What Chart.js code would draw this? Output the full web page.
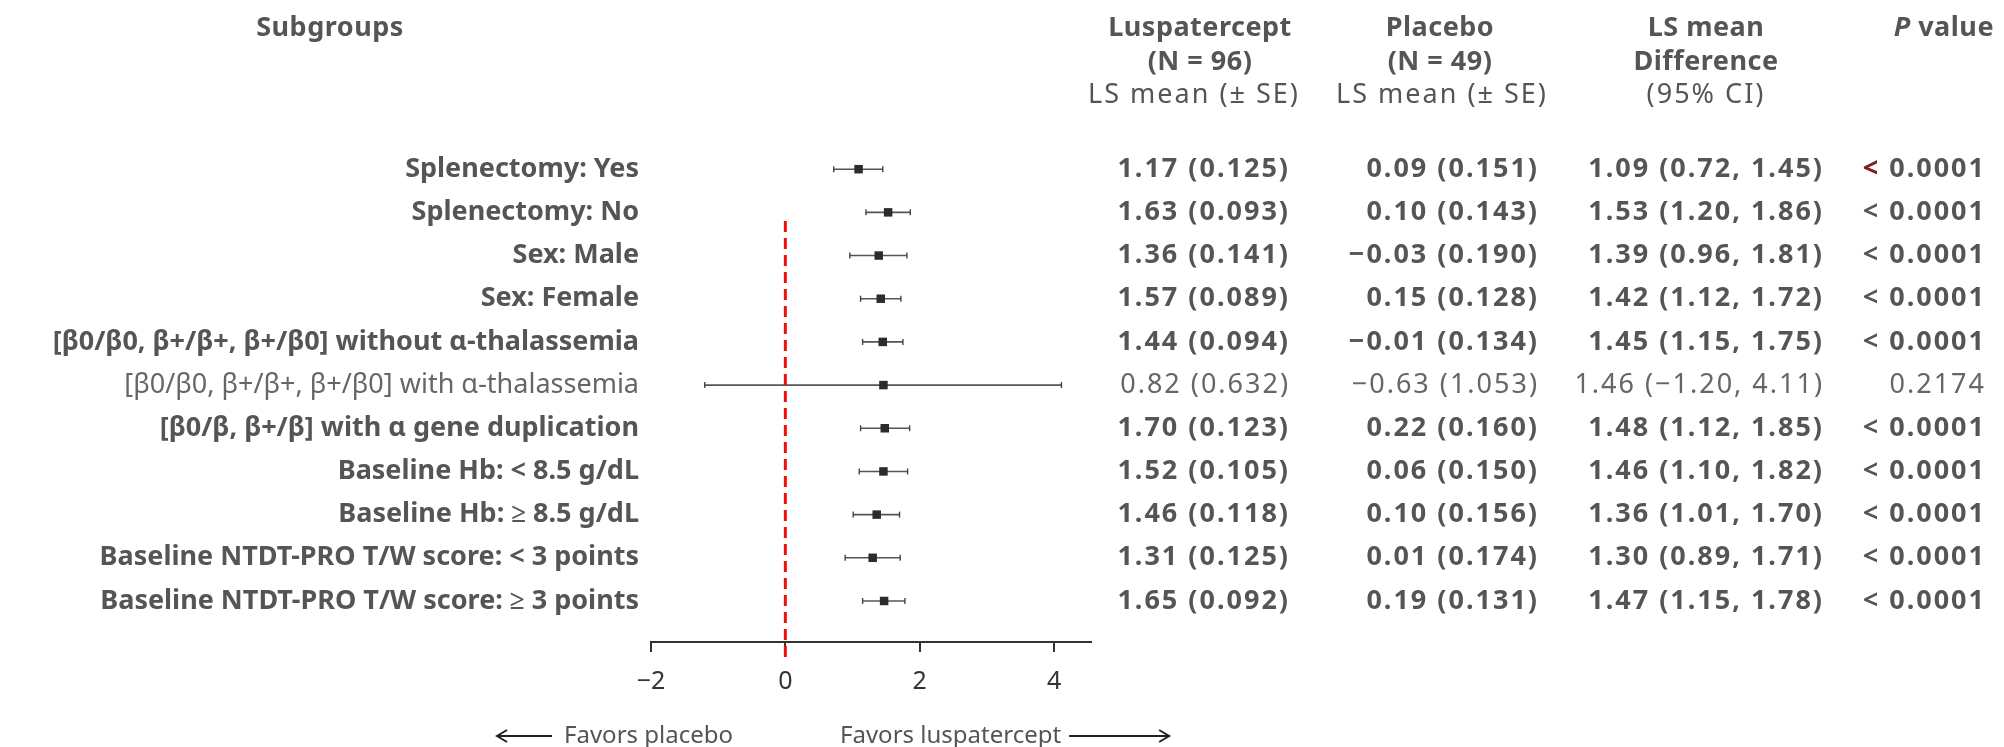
<!DOCTYPE html>
<html>
<head>
<meta charset="utf-8">
<script src="https://cdn.jsdelivr.net/npm/chart.js@4.4.1/dist/chart.umd.min.js"></script>
<style>
  html, body { margin: 0; padding: 0; background: #fff; }
</style>
</head>
<body>
<canvas id="forest" width="2004" height="747"></canvas>
<script>
// rows, top to bottom
const subgroups = [
  'Splenectomy: Yes',
  'Splenectomy: No',
  'Sex: Male',
  'Sex: Female',
  '[β0/β0, β+/β+, β+/β0] without α-thalassemia',
  '[β0/β0, β+/β+, β+/β0] with α-thalassemia',
  '[β0/β, β+/β] with α gene duplication',
  'Baseline Hb: < 8.5 g/dL',
  'Baseline Hb: ≥ 8.5 g/dL',
  'Baseline NTDT-PRO T/W score: < 3 points',
  'Baseline NTDT-PRO T/W score: ≥ 3 points'
];

const lusMean = [1.17, 1.63, 1.36, 1.57, 1.44, 0.82, 1.70, 1.52, 1.46, 1.31, 1.65];
const lusSE   = [0.125, 0.093, 0.141, 0.089, 0.094, 0.632, 0.123, 0.105, 0.118, 0.125, 0.092];
const plaMean = [0.09, 0.10, -0.03, 0.15, -0.01, -0.63, 0.22, 0.06, 0.10, 0.01, 0.19];
const plaSE   = [0.151, 0.143, 0.190, 0.128, 0.134, 1.053, 0.160, 0.150, 0.156, 0.174, 0.131];
const diffMean = [1.09, 1.53, 1.39, 1.42, 1.45, 1.46, 1.48, 1.46, 1.36, 1.30, 1.47];
const ciLow    = [0.72, 1.20, 0.96, 1.12, 1.15, -1.20, 1.12, 1.10, 1.01, 0.89, 1.15];
const ciHigh   = [1.45, 1.86, 1.81, 1.72, 1.75, 4.11, 1.85, 1.82, 1.70, 1.71, 1.78];
const pValues  = ['< 0.0001', '< 0.0001', '< 0.0001', '< 0.0001', '< 0.0001', '0.2174',
                  '< 0.0001', '< 0.0001', '< 0.0001', '< 0.0001', '< 0.0001'];

const xTicks = [-2, 0, 2, 4];
const xMin = -2, xMax = 4.55;
const refX = 0;
const refSpan = [1.2, 11.4];   // rows covered by the no-effect line

// look
const FONT = 'Noto Sans';
const SIZE = 27;
const TEXT = '#555555';
const INK = '#2b2b2b';

const isSig = (i) => (pValues[i] || '<').startsWith('<');
const rowOf = (c) => (c.tick ? c.tick.value : c.index);
const fmt = (v, d) => v.toFixed(d).replace('-', '\u2212');
const font = (bold, size = SIZE, italic = false) =>
  `${italic ? 'italic ' : ''}${bold ? 'bold ' : ''}${size}px "${FONT}"`;

// whisker segments, broken by a gap between rows
const whiskers = [];
subgroups.forEach((_, i) => {
  whiskers.push({ x: ciLow[i], y: i }, { x: ciHigh[i], y: i }, { x: NaN, y: NaN });
});

const arrow = (ctx, x0, x1, y) => {
  const d = x1 > x0 ? -1 : 1;
  ctx.beginPath();
  ctx.moveTo(x0, y); ctx.lineTo(x1, y);
  ctx.moveTo(x1 + d * 10, y - 6); ctx.lineTo(x1, y); ctx.lineTo(x1 + d * 10, y + 6);
  ctx.stroke();
};

const tablePlugin = {
  id: 'forestTable',
  afterDraw(chart) {
    const { ctx } = chart;
    const ys = chart.scales.y;
    ctx.save();
    ctx.fillStyle = TEXT;
    ctx.textBaseline = 'middle';

    // headers
    ctx.textAlign = 'center';
    ctx.font = font(true);
    ctx.letterSpacing = '0.5px';
    ctx.fillText('Subgroups', 330, 28);
    ctx.fillText('Luspatercept', 1200, 28);
    ctx.fillText('(N = 96)', 1200, 62);
    ctx.fillText('Placebo', 1440, 28);
    ctx.fillText('(N = 49)', 1440, 62);
    ctx.fillText('LS mean', 1706, 28);
    ctx.fillText('Difference', 1706, 62);
    ctx.font = font(false);
    ctx.letterSpacing = '2px';
    ctx.fillText('LS mean (± SE)', 1194, 95);
    ctx.fillText('LS mean (± SE)', 1442, 95);
    ctx.fillText('(95% CI)', 1706, 95);

    ctx.letterSpacing = '0.5px';
    ctx.textAlign = 'right';
    ctx.font = font(true);
    const vw = ctx.measureText(' value').width;
    ctx.fillText(' value', 1994, 28);
    ctx.font = font(true, SIZE, true);
    ctx.fillText('P', 1994 - vw, 28);

    // value columns
    ctx.letterSpacing = '2px';
    subgroups.forEach((_, i) => {
      const py = ys.getPixelForValue(i);
      ctx.font = font(isSig(i));
      ctx.fillStyle = isSig(i) ? TEXT : '#666';
      ctx.textAlign = 'right';
      ctx.fillText(`${fmt(lusMean[i], 2)} (${fmt(lusSE[i], 3)})`, 1290, py);
      ctx.fillText(`${fmt(plaMean[i], 2)} (${fmt(plaSE[i], 3)})`, 1539, py);
      ctx.fillText(`${fmt(diffMean[i], 2)} (${fmt(ciLow[i], 2)}, ${fmt(ciHigh[i], 2)})`, 1824, py);
      ctx.fillText(pValues[i], 1986, py);
      if (i === 0) {
        // the first "<" is printed in dark red in the source
        const w = ctx.measureText(pValues[i]).width;
        ctx.textAlign = 'left';
        ctx.fillStyle = '#8b1c1c';
        ctx.fillText('<', 1986 - w, py);
      }
    });

    // favours annotation
    ctx.letterSpacing = '0px';
    ctx.fillStyle = TEXT;
    ctx.font = font(false, 24);
    ctx.textAlign = 'left';
    ctx.fillText('Favors placebo', 564, 736);
    const rw = ctx.measureText('Favors luspatercept').width;
    ctx.fillText('Favors luspatercept', 840, 736);

    ctx.strokeStyle = '#222';
    ctx.lineWidth = 2;
    arrow(ctx, 552, 497, 736);
    arrow(ctx, 840 + rw + 8, 840 + rw + 108, 736);
    ctx.restore();
  }
};

new Chart(document.getElementById('forest'), {
  type: 'scatter',
  data: {
    datasets: [
      {
        label: 'LS mean difference',
        data: diffMean.map((v, i) => ({ x: v, y: i })),
        pointStyle: 'rect',
        pointRadius: 6,
        backgroundColor: INK,
        borderColor: INK,
        borderWidth: 0,
        order: 0
      },
      {
        label: 'no effect',
        data: refSpan.map(v => ({ x: refX, y: v })),
        showLine: true,
        borderColor: '#ee1111',
        borderWidth: 3,
        borderDash: [11, 6],
        pointRadius: 0,
        clip: false,
        order: 1
      },
      {
        label: '95% CI',
        data: whiskers,
        showLine: true,
        spanGaps: false,
        borderColor: '#555',
        borderWidth: 1.6,
        pointStyle: 'line',
        rotation: 90,
        pointRadius: 3,
        pointBorderColor: '#444',
        pointBorderWidth: 1.4,
        order: 2
      }
    ]
  },
  options: {
    responsive: false,
    animation: false,
    layout: { padding: { left: 0, top: 126, right: 913, bottom: 0 } },
    plugins: { legend: { display: false }, tooltip: { enabled: false } },
    scales: {
      x: {
        type: 'linear',
        min: xMin,
        max: xMax,
        afterBuildTicks: (s) => { s.ticks = xTicks.map(v => ({ value: v })); },
        afterFit: (s) => { s.height = 105; },
        border: { display: true, color: '#333', width: 2 },
        grid: { drawOnChartArea: false, drawTicks: true, tickLength: 10, color: '#333', lineWidth: 2 },
        ticks: {
          padding: 15,
          color: '#333',
          font: { family: FONT, size: 25 },
          callback: (v) => fmt(v, 0)
        }
      },
      y: {
        type: 'linear',
        reverse: true,
        min: -1,
        max: 10.95,
        afterBuildTicks: (s) => { s.ticks = subgroups.map((_, i) => ({ value: i })); },
        afterFit: (s) => { s.width = 651; },
        border: { display: false },
        grid: { display: false, drawTicks: false },
        ticks: {
          padding: 12,
          autoSkip: false,
          color: (c) => isSig(rowOf(c)) ? TEXT : '#666',
          font: (c) => ({ family: FONT, size: SIZE, weight: isSig(rowOf(c)) ? 'bold' : 'normal' }),
          callback: (v) => subgroups[v]
        }
      }
    }
  },
  plugins: [tablePlugin]
});
</script>
</body>
</html>
